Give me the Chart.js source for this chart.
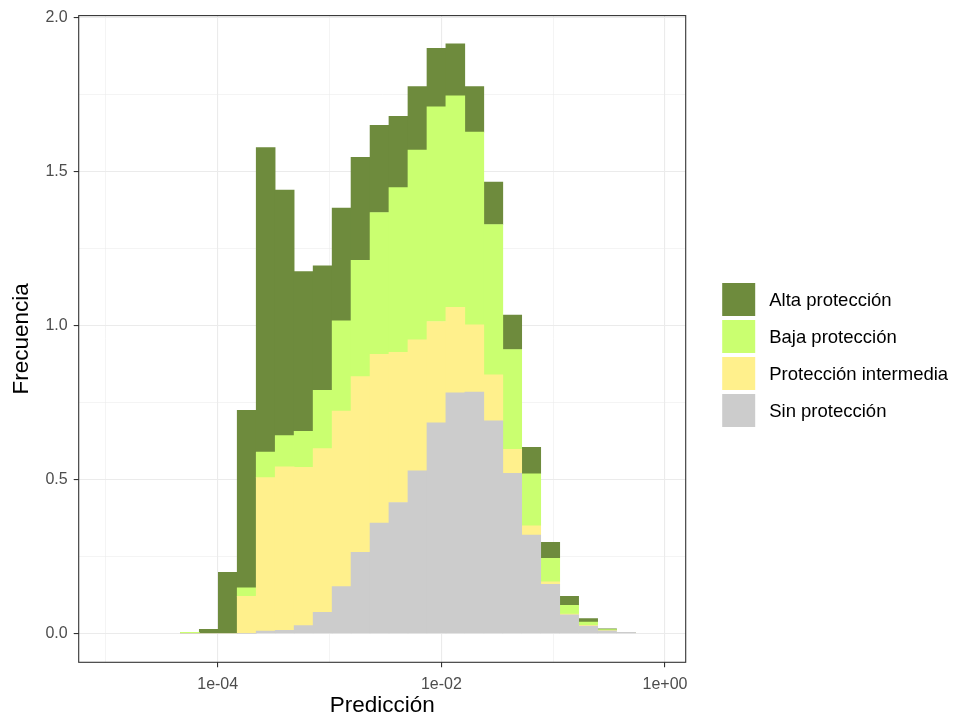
<!DOCTYPE html>
<html><head><meta charset="utf-8">
<script src="https://cdn.jsdelivr.net/npm/chart.js@4/dist/chart.umd.min.js"></script>
<style>html,body{margin:0;padding:0;background:#fff;}</style>
</head><body>
<canvas id="c" width="953" height="717"></canvas>
<script>
// Bin centres on the x axis, in log10(Predicción)
const binCenters = [-4.249,-4.080,-3.910,-3.741,-3.571,-3.401,-3.232,-3.062,-2.892,-2.723,-2.553,-2.384,-2.214,-2.044,-1.875,-1.705,-1.535,-1.366,-1.196,-1.026,-0.857,-0.687,-0.518,-0.348];
// Frecuencia per bin, per group (stacked bottom → top)
const sinProteccion        = [0,0,0,0,0.007,0.010,0.025,0.068,0.152,0.263,0.358,0.425,0.528,0.684,0.781,0.784,0.690,0.520,0.319,0.159,0.060,0.024,0.008,0.003];
const proteccionIntermedia = [0,0,0,0.120,0.499,0.531,0.514,0.532,0.570,0.571,0.548,0.488,0.425,0.329,0.278,0.218,0.150,0.078,0.030,0.008,0.003,0.002,0.001,0];
const bajaProteccion       = [0.003,0,0,0.028,0.083,0.101,0.117,0.189,0.293,0.378,0.461,0.535,0.617,0.697,0.687,0.626,0.488,0.324,0.169,0.077,0.028,0.011,0.003,0];
const altaProteccion       = [0,0.013,0.198,0.576,0.989,0.798,0.519,0.405,0.366,0.334,0.283,0.231,0.206,0.190,0.169,0.148,0.138,0.112,0.086,0.052,0.029,0.011,0.003,0];
const seriesNames  = ['Sin protección','Protección intermedia','Baja protección','Alta protección'];
const seriesValues = [sinProteccion, proteccionIntermedia, bajaProteccion, altaProteccion];
const seriesColors = ['#CCCCCC','#FFF08C','#CAFF70','#6E8B3D'];
// Axis ticks (x in log10 units)
const xTickValues  = [-5,-4,-3,-2,-1,0];
const xLabelValues = [-4,-2,0];
const yTickValues  = [0,0.25,0.5,0.75,1,1.25,1.5,1.75,2];
const yLabelValues = [0,0.5,1,1.5,2];

const FONT = '"Liberation Sans", Arial, sans-serif';
const fmtExp = v => { const e = Math.round(v); return '1e' + (e < 0 ? '-' : '+') + String(Math.abs(e)).padStart(2,'0'); };
const isMajorX = v => xLabelValues.some(m => Math.abs(m - v) < 1e-9);
const isMajorY = v => yLabelValues.some(m => Math.abs(m - v) < 1e-9);

const panelBorder = {
  id: 'panelBorder',
  afterDatasetsDraw(chart) {
    const {ctx, chartArea: a} = chart;
    ctx.save();
    ctx.strokeStyle = '#333333';
    ctx.lineWidth = 1.1;
    ctx.strokeRect(a.left, a.top, a.right - a.left, a.bottom - a.top);
    ctx.restore();
  }
};

const ggLegend = {
  id: 'ggLegend',
  afterDraw(chart) {
    const {ctx, chartArea: a} = chart;
    const items = chart.data.datasets.slice().reverse();
    const key = 33, pitch = 37;
    const x0 = a.right + 36.5;
    const y0 = 283;
    ctx.save();
    ctx.font = '18.5px ' + FONT;
    ctx.textBaseline = 'middle';
    ctx.textAlign = 'left';
    items.forEach((d, i) => {
      const y = y0 + i * pitch;
      ctx.fillStyle = d.backgroundColor;
      ctx.fillRect(x0, y, key, key);
      ctx.fillStyle = '#000000';
      ctx.fillText(d.label, x0 + 47, y + key / 2 + 1);
    });
    ctx.restore();
  }
};

new Chart(document.getElementById('c'), {
  type: 'bar',
  data: {
    datasets: seriesNames.map((name, s) => ({
      label: name,
      data: binCenters.map((x, i) => ({x: x, y: seriesValues[s][i]})),
      backgroundColor: seriesColors[s],
      borderWidth: 0,
      barPercentage: 1,
      categoryPercentage: 1
    }))
  },
  options: {
    responsive: false,
    animation: false,
    layout: {padding: {top: 13.3, right: 267.3, left: 0, bottom: 0}},
    plugins: {legend: {display: false}, tooltip: {enabled: false}, title: {display: false}},
    scales: {
      x: {
        type: 'linear', stacked: true, min: -5.243, max: 0.185, offset: false,
        afterBuildTicks: s => { s.ticks = xTickValues.map(v => ({value: v})); },
        afterFit: s => { s.height = 54.7; },
        border: {display: false},
        grid: {
          offset: false, drawTicks: true, tickLength: 5,
          color: '#EBEBEB',
          lineWidth: c => isMajorX(c.tick.value) ? 1.1 : 0.55,
          tickColor: c => isMajorX(c.tick.value) ? '#333333' : 'rgba(0,0,0,0)',
          tickWidth: 1.1
        },
        ticks: {
          autoSkip: false, maxRotation: 0, padding: 8, color: '#4D4D4D',
          font: {family: FONT, size: 16},
          callback: v => isMajorX(v) ? fmtExp(v) : ''
        },
        title: {display: true, text: 'Predicción', color: '#000000',
          font: {family: FONT, size: 22.5, lineHeight: 1}, padding: {top: 0, bottom: 0}}
      },
      y: {
        type: 'linear', stacked: true, min: -0.094, max: 2.0065,
        afterBuildTicks: s => { s.ticks = yTickValues.map(v => ({value: v})); },
        afterFit: s => { s.width = 78.7; },
        border: {display: false},
        grid: {
          drawTicks: true, tickLength: 5,
          color: '#EBEBEB',
          lineWidth: c => isMajorY(c.tick.value) ? 1.1 : 0.55,
          tickColor: c => isMajorY(c.tick.value) ? '#333333' : 'rgba(0,0,0,0)',
          tickWidth: 1.1
        },
        ticks: {
          autoSkip: false, padding: 6, color: '#4D4D4D',
          font: {family: FONT, size: 16},
          callback: v => isMajorY(v) ? v.toFixed(1) : ''
        },
        title: {display: true, text: 'Frecuencia', color: '#000000',
          font: {family: FONT, size: 22.5}, padding: {top: 8.5, bottom: 0}}
      }
    }
  },
  plugins: [panelBorder, ggLegend]
});
</script>
</body></html>
